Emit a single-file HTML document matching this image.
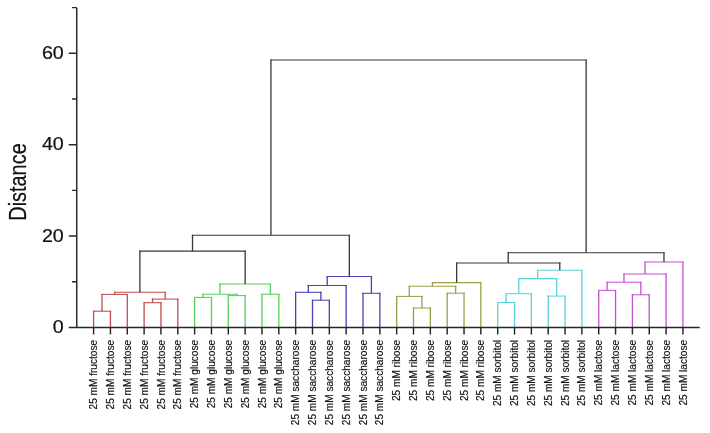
<!DOCTYPE html>
<html><head><meta charset="utf-8"><style>
html,body{margin:0;padding:0;background:#fff;}
body{width:710px;height:433px;overflow:hidden;}
svg{display:block;filter:blur(0.3px);font-family:"Liberation Sans",sans-serif;}
</style></head><body>
<svg width="710" height="433" viewBox="0 0 710 433">
<g fill="none" stroke-width="1.3" stroke-linecap="square">
<path d="M93.60 327.40V310.68M110.44 310.68V327.40" stroke="#c24a50" stroke-width="1.3" stroke-linecap="butt"/>
<path d="M92.95 311.20H111.09" stroke="#c24a50" stroke-width="1.05" stroke-linecap="butt"/>
<path d="M102.02 311.20V293.88M127.27 293.88V327.40" stroke="#c24a50" stroke-width="1.3" stroke-linecap="butt"/>
<path d="M101.37 294.40H127.92" stroke="#c24a50" stroke-width="1.05" stroke-linecap="butt"/>
<path d="M144.11 327.40V302.18M160.95 302.18V327.40" stroke="#c24a50" stroke-width="1.3" stroke-linecap="butt"/>
<path d="M143.46 302.70H161.60" stroke="#c24a50" stroke-width="1.05" stroke-linecap="butt"/>
<path d="M152.53 302.70V298.58M177.79 298.58V327.40" stroke="#c24a50" stroke-width="1.3" stroke-linecap="butt"/>
<path d="M151.88 299.10H178.44" stroke="#c24a50" stroke-width="1.05" stroke-linecap="butt"/>
<path d="M114.64 294.40V291.68M165.16 291.68V299.10" stroke="#c24a50" stroke-width="1.3" stroke-linecap="butt"/>
<path d="M113.99 292.20H165.81" stroke="#c24a50" stroke-width="1.05" stroke-linecap="butt"/>
<path d="M194.62 327.40V296.88M211.46 296.88V327.40" stroke="#58cf58" stroke-width="1.3" stroke-linecap="butt"/>
<path d="M193.97 297.40H212.11" stroke="#58cf58" stroke-width="1.05" stroke-linecap="butt"/>
<path d="M228.30 327.40V295.08M245.14 295.08V327.40" stroke="#58cf58" stroke-width="1.3" stroke-linecap="butt"/>
<path d="M227.65 295.60H245.79" stroke="#58cf58" stroke-width="1.05" stroke-linecap="butt"/>
<path d="M203.04 297.40V293.68M236.72 293.68V295.60" stroke="#58cf58" stroke-width="1.3" stroke-linecap="butt"/>
<path d="M202.39 294.20H237.37" stroke="#58cf58" stroke-width="1.05" stroke-linecap="butt"/>
<path d="M261.97 327.40V293.68M278.81 293.68V327.40" stroke="#58cf58" stroke-width="1.3" stroke-linecap="butt"/>
<path d="M261.32 294.20H279.46" stroke="#58cf58" stroke-width="1.05" stroke-linecap="butt"/>
<path d="M219.88 294.20V283.48M270.39 283.48V294.20" stroke="#58cf58" stroke-width="1.3" stroke-linecap="butt"/>
<path d="M219.23 284.00H271.04" stroke="#58cf58" stroke-width="1.05" stroke-linecap="butt"/>
<path d="M312.49 327.40V299.68M329.32 299.68V327.40" stroke="#4444b2" stroke-width="1.3" stroke-linecap="butt"/>
<path d="M311.84 300.20H329.97" stroke="#4444b2" stroke-width="1.05" stroke-linecap="butt"/>
<path d="M295.65 327.40V291.78M320.91 291.78V300.20" stroke="#4444b2" stroke-width="1.3" stroke-linecap="butt"/>
<path d="M295.00 292.30H321.56" stroke="#4444b2" stroke-width="1.05" stroke-linecap="butt"/>
<path d="M308.28 292.30V284.88M346.16 284.88V327.40" stroke="#4444b2" stroke-width="1.3" stroke-linecap="butt"/>
<path d="M307.63 285.40H346.81" stroke="#4444b2" stroke-width="1.05" stroke-linecap="butt"/>
<path d="M363.00 327.40V292.78M379.84 292.78V327.40" stroke="#4444b2" stroke-width="1.3" stroke-linecap="butt"/>
<path d="M362.35 293.30H380.49" stroke="#4444b2" stroke-width="1.05" stroke-linecap="butt"/>
<path d="M327.22 285.40V275.98M371.42 275.98V293.30" stroke="#4444b2" stroke-width="1.3" stroke-linecap="butt"/>
<path d="M326.57 276.50H372.07" stroke="#4444b2" stroke-width="1.05" stroke-linecap="butt"/>
<path d="M413.51 327.40V307.48M430.35 307.48V327.40" stroke="#9e9e48" stroke-width="1.3" stroke-linecap="butt"/>
<path d="M412.86 308.00H431.00" stroke="#9e9e48" stroke-width="1.05" stroke-linecap="butt"/>
<path d="M396.67 327.40V295.88M421.93 295.88V308.00" stroke="#9e9e48" stroke-width="1.3" stroke-linecap="butt"/>
<path d="M396.02 296.40H422.58" stroke="#9e9e48" stroke-width="1.05" stroke-linecap="butt"/>
<path d="M447.19 327.40V292.68M464.02 292.68V327.40" stroke="#9e9e48" stroke-width="1.3" stroke-linecap="butt"/>
<path d="M446.54 293.20H464.67" stroke="#9e9e48" stroke-width="1.05" stroke-linecap="butt"/>
<path d="M409.30 296.40V285.78M455.61 285.78V293.20" stroke="#9e9e48" stroke-width="1.3" stroke-linecap="butt"/>
<path d="M408.65 286.30H456.26" stroke="#9e9e48" stroke-width="1.05" stroke-linecap="butt"/>
<path d="M432.45 286.30V282.08M480.86 282.08V327.40" stroke="#9e9e48" stroke-width="1.3" stroke-linecap="butt"/>
<path d="M431.80 282.60H481.51" stroke="#9e9e48" stroke-width="1.05" stroke-linecap="butt"/>
<path d="M497.70 327.40V301.98M514.54 301.98V327.40" stroke="#58d4da" stroke-width="1.3" stroke-linecap="butt"/>
<path d="M497.05 302.50H515.19" stroke="#58d4da" stroke-width="1.05" stroke-linecap="butt"/>
<path d="M506.12 302.50V293.18M531.38 293.18V327.40" stroke="#58d4da" stroke-width="1.3" stroke-linecap="butt"/>
<path d="M505.47 293.70H532.03" stroke="#58d4da" stroke-width="1.05" stroke-linecap="butt"/>
<path d="M548.21 327.40V295.58M565.05 295.58V327.40" stroke="#58d4da" stroke-width="1.3" stroke-linecap="butt"/>
<path d="M547.56 296.10H565.70" stroke="#58d4da" stroke-width="1.05" stroke-linecap="butt"/>
<path d="M518.75 293.70V278.08M556.63 278.08V296.10" stroke="#58d4da" stroke-width="1.3" stroke-linecap="butt"/>
<path d="M518.10 278.60H557.28" stroke="#58d4da" stroke-width="1.05" stroke-linecap="butt"/>
<path d="M537.69 278.60V269.68M581.89 269.68V327.40" stroke="#58d4da" stroke-width="1.3" stroke-linecap="butt"/>
<path d="M537.04 270.20H582.54" stroke="#58d4da" stroke-width="1.05" stroke-linecap="butt"/>
<path d="M598.73 327.40V289.88M615.56 289.88V327.40" stroke="#c252cc" stroke-width="1.3" stroke-linecap="butt"/>
<path d="M598.08 290.40H616.21" stroke="#c252cc" stroke-width="1.05" stroke-linecap="butt"/>
<path d="M632.40 327.40V294.28M649.24 294.28V327.40" stroke="#c252cc" stroke-width="1.3" stroke-linecap="butt"/>
<path d="M631.75 294.80H649.89" stroke="#c252cc" stroke-width="1.05" stroke-linecap="butt"/>
<path d="M607.14 290.40V281.78M640.82 281.78V294.80" stroke="#c252cc" stroke-width="1.3" stroke-linecap="butt"/>
<path d="M606.49 282.30H641.47" stroke="#c252cc" stroke-width="1.05" stroke-linecap="butt"/>
<path d="M623.98 282.30V273.48M666.08 273.48V327.40" stroke="#c252cc" stroke-width="1.3" stroke-linecap="butt"/>
<path d="M623.33 274.00H666.73" stroke="#c252cc" stroke-width="1.05" stroke-linecap="butt"/>
<path d="M645.03 274.00V261.48M682.91 261.48V327.40" stroke="#c252cc" stroke-width="1.3" stroke-linecap="butt"/>
<path d="M644.38 262.00H683.56" stroke="#c252cc" stroke-width="1.05" stroke-linecap="butt"/>
<path d="M139.90 292.20V250.57M245.14 250.57V284.00" stroke="#383838" stroke-width="1.3" stroke-linecap="butt"/>
<path d="M139.25 251.10H245.79" stroke="#383838" stroke-width="1.05" stroke-linecap="butt"/>
<path d="M192.52 251.10V234.67M349.32 234.67V276.50" stroke="#383838" stroke-width="1.3" stroke-linecap="butt"/>
<path d="M191.87 235.20H349.97" stroke="#383838" stroke-width="1.05" stroke-linecap="butt"/>
<path d="M456.66 282.60V262.48M559.79 262.48V270.20" stroke="#383838" stroke-width="1.3" stroke-linecap="butt"/>
<path d="M456.01 263.00H560.44" stroke="#383838" stroke-width="1.05" stroke-linecap="butt"/>
<path d="M508.22 263.00V252.17M663.97 252.17V262.00" stroke="#383838" stroke-width="1.3" stroke-linecap="butt"/>
<path d="M507.57 252.70H664.62" stroke="#383838" stroke-width="1.05" stroke-linecap="butt"/>
<path d="M270.92 235.20V59.48M586.10 59.48V252.70" stroke="#383838" stroke-width="1.3" stroke-linecap="butt"/>
<path d="M270.27 60.00H586.75" stroke="#383838" stroke-width="1.05" stroke-linecap="butt"/>
</g>
<g fill="none" stroke="#262626" stroke-width="1.45">
<path d="M76.76 7.64V327.40"/>
<path d="M68.7 327.40H699.8"/>
<path d="M72.06 281.72H76.76 M68.76 236.04H76.76 M72.06 190.36H76.76 M68.76 144.68H76.76 M72.06 99.00H76.76 M68.76 53.32H76.76 M72.06 7.64H76.76"/>
<path d="M93.60 327.40v7 M110.44 327.40v7 M127.27 327.40v7 M144.11 327.40v7 M160.95 327.40v7 M177.79 327.40v7 M194.62 327.40v7 M211.46 327.40v7 M228.30 327.40v7 M245.14 327.40v7 M261.97 327.40v7 M278.81 327.40v7 M295.65 327.40v7 M312.49 327.40v7 M329.32 327.40v7 M346.16 327.40v7 M363.00 327.40v7 M379.84 327.40v7 M396.67 327.40v7 M413.51 327.40v7 M430.35 327.40v7 M447.19 327.40v7 M464.02 327.40v7 M480.86 327.40v7 M497.70 327.40v7 M514.54 327.40v7 M531.38 327.40v7 M548.21 327.40v7 M565.05 327.40v7 M581.89 327.40v7 M598.73 327.40v7 M615.56 327.40v7 M632.40 327.40v7 M649.24 327.40v7 M666.08 327.40v7 M682.91 327.40v7"/>
</g>
<g font-size="17.6" fill="#111" stroke="#111" stroke-width="0.2">
<text transform="translate(63.8,333.00) scale(1.12,1)" text-anchor="end">0</text>
<text transform="translate(63.8,241.64) scale(1.12,1)" text-anchor="end">20</text>
<text transform="translate(63.8,150.28) scale(1.12,1)" text-anchor="end">40</text>
<text transform="translate(63.8,58.92) scale(1.12,1)" text-anchor="end">60</text>
</g>
<text transform="translate(25.6,182.0) rotate(-90) scale(1,1.2)" text-anchor="middle" font-size="19.9" fill="#111" stroke="#111" stroke-width="0.2">Distance</text>
<g font-size="10.1" fill="#111" stroke="#111" stroke-width="0.15">
<text transform="translate(97.20,339.9) rotate(-90) scale(1,1.12)" text-anchor="end">25 mM fructose</text>
<text transform="translate(114.04,339.9) rotate(-90) scale(1,1.12)" text-anchor="end">25 mM fructose</text>
<text transform="translate(130.87,339.9) rotate(-90) scale(1,1.12)" text-anchor="end">25 mM fructose</text>
<text transform="translate(147.71,339.9) rotate(-90) scale(1,1.12)" text-anchor="end">25 mM fructose</text>
<text transform="translate(164.55,339.9) rotate(-90) scale(1,1.12)" text-anchor="end">25 mM fructose</text>
<text transform="translate(181.39,339.9) rotate(-90) scale(1,1.12)" text-anchor="end">25 mM fructose</text>
<text transform="translate(198.22,339.9) rotate(-90) scale(1,1.12)" text-anchor="end">25 mM glucose</text>
<text transform="translate(215.06,339.9) rotate(-90) scale(1,1.12)" text-anchor="end">25 mM glucose</text>
<text transform="translate(231.90,339.9) rotate(-90) scale(1,1.12)" text-anchor="end">25 mM glucose</text>
<text transform="translate(248.74,339.9) rotate(-90) scale(1,1.12)" text-anchor="end">25 mM glucose</text>
<text transform="translate(265.57,339.9) rotate(-90) scale(1,1.12)" text-anchor="end">25 mM glucose</text>
<text transform="translate(282.41,339.9) rotate(-90) scale(1,1.12)" text-anchor="end">25 mM glucose</text>
<text transform="translate(299.25,339.9) rotate(-90) scale(1,1.12)" text-anchor="end">25 mM saccharose</text>
<text transform="translate(316.09,339.9) rotate(-90) scale(1,1.12)" text-anchor="end">25 mM saccharose</text>
<text transform="translate(332.92,339.9) rotate(-90) scale(1,1.12)" text-anchor="end">25 mM saccharose</text>
<text transform="translate(349.76,339.9) rotate(-90) scale(1,1.12)" text-anchor="end">25 mM saccharose</text>
<text transform="translate(366.60,339.9) rotate(-90) scale(1,1.12)" text-anchor="end">25 mM saccharose</text>
<text transform="translate(383.44,339.9) rotate(-90) scale(1,1.12)" text-anchor="end">25 mM saccharose</text>
<text transform="translate(400.27,339.9) rotate(-90) scale(1,1.12)" text-anchor="end">25 mM ribose</text>
<text transform="translate(417.11,339.9) rotate(-90) scale(1,1.12)" text-anchor="end">25 mM ribose</text>
<text transform="translate(433.95,339.9) rotate(-90) scale(1,1.12)" text-anchor="end">25 mM ribose</text>
<text transform="translate(450.79,339.9) rotate(-90) scale(1,1.12)" text-anchor="end">25 mM ribose</text>
<text transform="translate(467.62,339.9) rotate(-90) scale(1,1.12)" text-anchor="end">25 mM ribose</text>
<text transform="translate(484.46,339.9) rotate(-90) scale(1,1.12)" text-anchor="end">25 mM ribose</text>
<text transform="translate(501.30,339.9) rotate(-90) scale(1,1.12)" text-anchor="end">25 mM sorbitol</text>
<text transform="translate(518.14,339.9) rotate(-90) scale(1,1.12)" text-anchor="end">25 mM sorbitol</text>
<text transform="translate(534.98,339.9) rotate(-90) scale(1,1.12)" text-anchor="end">25 mM sorbitol</text>
<text transform="translate(551.81,339.9) rotate(-90) scale(1,1.12)" text-anchor="end">25 mM sorbitol</text>
<text transform="translate(568.65,339.9) rotate(-90) scale(1,1.12)" text-anchor="end">25 mM sorbitol</text>
<text transform="translate(585.49,339.9) rotate(-90) scale(1,1.12)" text-anchor="end">25 mM sorbitol</text>
<text transform="translate(602.33,339.9) rotate(-90) scale(1,1.12)" text-anchor="end">25 mM lactose</text>
<text transform="translate(619.16,339.9) rotate(-90) scale(1,1.12)" text-anchor="end">25 mM lactose</text>
<text transform="translate(636.00,339.9) rotate(-90) scale(1,1.12)" text-anchor="end">25 mM lactose</text>
<text transform="translate(652.84,339.9) rotate(-90) scale(1,1.12)" text-anchor="end">25 mM lactose</text>
<text transform="translate(669.68,339.9) rotate(-90) scale(1,1.12)" text-anchor="end">25 mM lactose</text>
<text transform="translate(686.51,339.9) rotate(-90) scale(1,1.12)" text-anchor="end">25 mM lactose</text>
</g>
</svg>
</body></html>
